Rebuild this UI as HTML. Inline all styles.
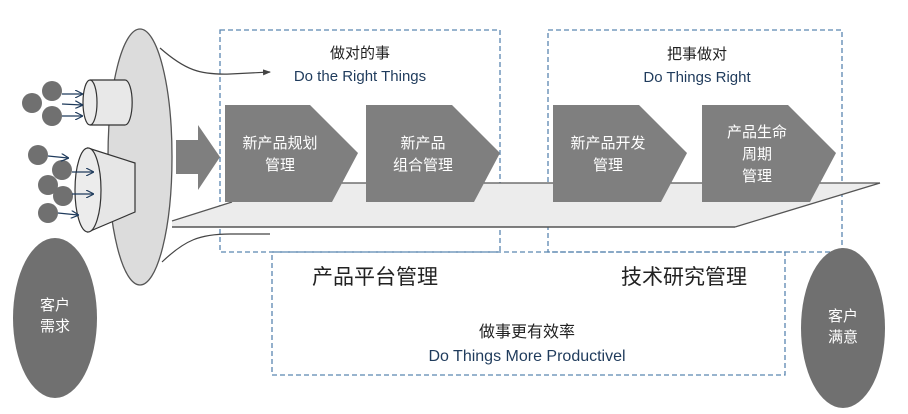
<!DOCTYPE html>
<html><head><meta charset="utf-8"><style>
html,body{margin:0;padding:0;background:#fff;}
svg{display:block;}
text{font-family:"Liberation Sans","Noto Sans CJK SC",sans-serif;}
</style></head><body>
<svg width="908" height="414" viewBox="0 0 908 414" xmlns="http://www.w3.org/2000/svg">
<defs>
<marker id="ah" markerWidth="8" markerHeight="8" refX="7" refY="4" orient="auto" markerUnits="userSpaceOnUse"><path d="M0,0 L8,4 L0,8" fill="none" stroke="#1f3b5c" stroke-width="1.2"/></marker>
<marker id="ah2" markerWidth="8" markerHeight="6" refX="7" refY="3" orient="auto" markerUnits="userSpaceOnUse"><path d="M0,0 L8,3 L0,6 Z" fill="#444"/></marker>
</defs>
<!-- dashed boxes -->
<g fill="none" stroke="#5a86b0" stroke-width="1.3" stroke-dasharray="5,3">
<rect x="220" y="30" width="280" height="222"/>
<rect x="548" y="30" width="294" height="222"/>
<rect x="272" y="252" width="513" height="123"/>
</g>
<!-- curves from funnel -->
<path d="M160,48 C185,70 200,75 230,74 L270,72" fill="none" stroke="#444" stroke-width="1.2" marker-end="url(#ah2)"/>
<path d="M162,262 C185,240 200,234 230,234 L270,234" fill="none" stroke="#444" stroke-width="1.2"/>
<!-- big funnel ellipse -->
<ellipse cx="140" cy="157" rx="32" ry="128" fill="#dcdcdc" stroke="#555" stroke-width="1.3"/>
<!-- platform band -->
<polygon points="172,222 230,203 225,183 880,183 735,227 172,227" fill="#ececec"/>
<line x1="225" y1="183" x2="880" y2="183" stroke="#555" stroke-width="1.3"/>
<line x1="880" y1="183" x2="735" y2="227" stroke="#555" stroke-width="1.3"/>
<line x1="172" y1="227" x2="735" y2="227" stroke="#555" stroke-width="1.5"/>
<line x1="172" y1="221" x2="232" y2="202" stroke="#555" stroke-width="1.2"/>
<!-- chevrons -->
<g fill="#7f7f7f">
<polygon points="225,105 310,105 358,153 332,202 225,202"/>
<polygon points="366,105 452,105 500,153 474,202 366,202"/>
<polygon points="553,105 639,105 687,153 661,202 553,202"/>
<polygon points="702,105 788,105 836,153 810,202 702,202"/>
</g>
<g fill="#fff" font-size="15" text-anchor="middle">
<text x="280" y="148">新产品规划</text><text x="280" y="170">管理</text>
<text x="423" y="148">新产品</text><text x="423" y="170">组合管理</text>
<text x="608" y="148">新产品开发</text><text x="608" y="170">管理</text>
<text x="757" y="137">产品生命</text><text x="757" y="159">周期</text><text x="757" y="181">管理</text>
</g>
<!-- big arrow -->
<polygon points="176,140 198,140 198,125 220,157 198,190 198,174 176,174" fill="#7f7f7f"/>
<!-- cylinder -->
<path d="M90,80 L125,80 A7,22 0 0 1 125,125 L90,125" fill="#e8e8e8" stroke="#333" stroke-width="1.2"/>
<ellipse cx="90" cy="102.5" rx="7" ry="22.5" fill="#ececec" stroke="#333" stroke-width="1.2"/>
<!-- frustum -->
<polygon points="88,148 135,163 135,212 88,232" fill="#e6e6e6" stroke="#333" stroke-width="1.2"/>
<ellipse cx="88" cy="190" rx="13" ry="42" fill="#ececec" stroke="#333" stroke-width="1.2"/>
<!-- dots -->
<g fill="#707070">
<circle cx="32" cy="103" r="10"/><circle cx="52" cy="91" r="10"/><circle cx="52" cy="116" r="10"/>
<circle cx="38" cy="155" r="10"/><circle cx="62" cy="170" r="10"/><circle cx="48" cy="185" r="10"/><circle cx="63" cy="196" r="10"/>
<circle cx="48" cy="213" r="10"/>
</g>
<g stroke="#1f3b5c" stroke-width="1.2" marker-end="url(#ah)">
<line x1="62" y1="94" x2="82" y2="94"/><line x1="62" y1="104" x2="82" y2="105"/><line x1="62" y1="116" x2="82" y2="116"/>
<line x1="48" y1="156" x2="68" y2="158"/><line x1="72" y1="172" x2="93" y2="172"/><line x1="72" y1="194" x2="93" y2="194"/><line x1="58" y1="213" x2="78" y2="215"/>
</g>
<!-- customer ellipses -->
<ellipse cx="55" cy="318" rx="42" ry="80" fill="#707070"/>
<text x="55" y="310" fill="#fff" font-size="15" text-anchor="middle">客户</text>
<text x="55" y="331" fill="#fff" font-size="15" text-anchor="middle">需求</text>
<ellipse cx="843" cy="328" rx="42" ry="80" fill="#707070"/>
<text x="843" y="321" fill="#fff" font-size="15" text-anchor="middle">客户</text>
<text x="843" y="342" fill="#fff" font-size="15" text-anchor="middle">满意</text>
<!-- labels -->
<g fill="#222" text-anchor="middle">
<text x="360" y="58" font-size="15">做对的事</text>
<text x="360" y="81" font-size="15" fill="#1f3b5c">Do the Right Things</text>
<text x="697" y="59" font-size="15">把事做对</text>
<text x="697" y="82" font-size="15" fill="#1f3b5c">Do Things Right</text>
<text x="375" y="284" font-size="21">产品平台管理</text>
<text x="684" y="284" font-size="21">技术研究管理</text>
<text x="527" y="337" font-size="16">做事更有效率</text>
<text x="527" y="361" font-size="16" fill="#1f3b5c">Do Things  More Productivel</text>
</g>
</svg>
</body></html>
